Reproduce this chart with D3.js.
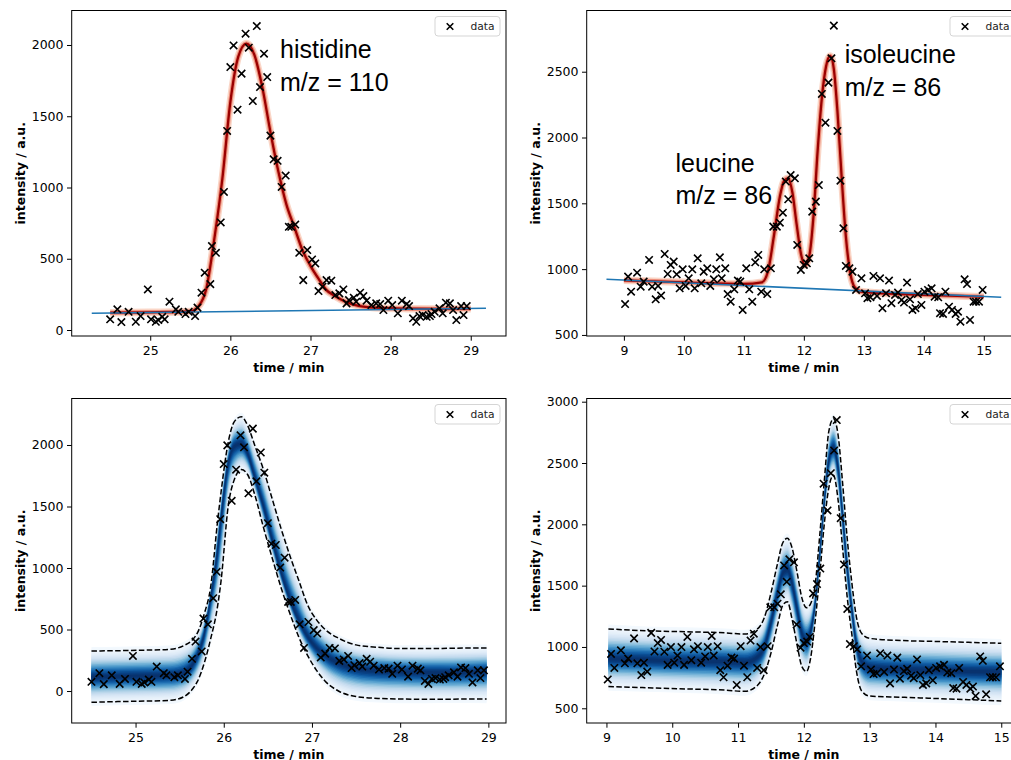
<!DOCTYPE html>
<html>
<head>
<meta charset="utf-8">
<script src="https://cdn.jsdelivr.net/npm/d3@7"></script>
<style>
  body { margin: 0; background: #fff; }
  text { font-family: "DejaVu Sans", sans-serif; }
</style>
</head>
<body>
<svg id="chart" width="1011" height="760"></svg>
<script>
// histidine, m/z = 110
const histTime = [24.50, 24.59, 24.64, 24.73, 24.82, 24.88, 24.97, 25.01, 25.07, 25.10, 25.15, 25.18, 25.24, 25.32, 25.35, 25.44,
  25.48, 25.56, 25.59, 25.64, 25.68, 25.75, 25.77, 25.82, 25.88, 25.92, 25.96, 26.00, 26.04, 26.09, 26.14, 26.19, 26.23, 26.28,
  26.33, 26.37, 26.42, 26.46, 26.50, 26.54, 26.59, 26.64, 26.69, 26.73, 26.76, 26.81, 26.86, 26.91, 26.96, 27.02, 27.06, 27.10,
  27.15, 27.20, 27.26, 27.31, 27.36, 27.41, 27.45, 27.48, 27.54, 27.57, 27.62, 27.66, 27.70, 27.76, 27.82, 27.87, 27.91, 27.97,
  28.02, 28.09, 28.14, 28.20, 28.23, 28.28, 28.32, 28.36, 28.40, 28.45, 28.49, 28.51, 28.55, 28.61, 28.65, 28.69, 28.74, 28.78,
  28.82, 28.88, 28.91, 28.95]
const histIntensity = [75, 145, 56, 128, 58, 98, 285, 75, 58, 70, 93, 75, 199, 145, 128, 112,
  128, 98, 157, 262, 402, 322, 589, 542, 755, 969, 1397, 1845, 1997, 1546, 1799, 2079, 1981, 1607,
  2133, 1705, 1939, 1775, 1364, 1198, 1187, 1004, 1084, 724, 724, 740, 542, 350, 561, 495, 467, 273,
  304, 350, 346, 245, 257, 285, 187, 210, 227, 199, 262, 238, 206, 175, 187, 182, 140, 206,
  175, 117, 206, 182, 168, 82, 58, 98, 105, 93, 98, 112, 128, 152, 117, 192, 187, 140,
  70, 168, 105, 168]

const histFitTime = [24.50, 25.00, 25.50, 25.60, 25.70, 25.80, 25.90, 26.00, 26.10, 26.20, 26.30, 26.40, 26.50, 26.60,
  26.70, 26.80, 26.90, 27.00, 27.10, 27.20, 27.30, 27.45, 27.60, 27.80, 28.20, 28.60, 29.00]
const histFit = [121, 124, 130, 165, 290, 640, 1060, 1600, 1920, 2010, 1930, 1700, 1390, 1110,
  880, 720, 560, 450, 360, 280, 240, 195, 170, 157, 150, 148, 150]
const histBaseTime = [24.27, 29.19]
const histBase = [117, 152]

const histBandTime = [24.50, 24.80, 25.10, 25.40, 25.55, 25.65, 25.70, 25.78, 25.85, 25.93, 25.97, 26.05, 26.12, 26.20, 26.27,
  26.35, 26.45, 26.55, 26.65, 26.75, 26.85, 26.95, 27.05, 27.15, 27.30, 27.50, 27.75, 28.00, 28.30, 28.60, 28.98]
const histMean = [112, 118, 122, 128, 150, 220, 290, 470, 760, 1150, 1420, 1850, 1990, 2010, 1930,
  1740, 1500, 1220, 960, 740, 570, 440, 350, 290, 230, 185, 165, 158, 150, 148, 160]
const histUpper = [325, 328, 332, 340, 370, 420, 470, 630, 840, 1380, 1620, 2020, 2190, 2230, 2160,
  2000, 1800, 1560, 1320, 1100, 900, 700, 580, 500, 430, 375, 355, 345, 345, 348, 350]
const histLower = [-92, -86, -82, -75, -45, 20, 76, 230, 420, 690, 900, 1500, 1720, 1800, 1760,
  1600, 1330, 1080, 840, 630, 440, 290, 170, 80, 0, -45, -60, -65, -67, -66, -65]

// leucine / isoleucine, m/z = 86
const leuTime = [9.02, 9.07, 9.12, 9.22, 9.28, 9.33, 9.42, 9.47, 9.53, 9.57, 9.62, 9.68, 9.73, 9.78, 9.83, 9.88, 9.93, 9.98,
  10.03, 10.08, 10.14, 10.18, 10.23, 10.29, 10.33, 10.39, 10.44, 10.50, 10.54, 10.60, 10.63, 10.69, 10.73, 10.78, 10.84, 10.90,
  10.94, 10.98, 11.04, 11.09, 11.14, 11.19, 11.24, 11.29, 11.34, 11.39, 11.45, 11.49, 11.55, 11.60, 11.65, 11.70, 11.74, 11.78,
  11.85, 11.89, 11.95, 12.00, 12.05, 12.09, 12.14, 12.20, 12.25, 12.30, 12.36, 12.41, 12.46, 12.50, 12.56, 12.61, 12.66, 12.70,
  12.76, 12.81, 12.87, 12.96, 13.02, 13.06, 13.11, 13.16, 13.22, 13.27, 13.31, 13.37, 13.42, 13.46, 13.52, 13.57, 13.63, 13.67,
  13.72, 13.77, 13.81, 13.86, 13.90, 13.96, 14.01, 14.07, 14.13, 14.18, 14.24, 14.27, 14.32, 14.36, 14.42, 14.47, 14.53, 14.57,
  14.61, 14.68, 14.72, 14.77, 14.83, 14.87, 14.92, 14.98]
const leuIntensity = [735, 943, 829, 973, 867, 905, 1070, 867, 771, 872, 799, 1115, 963, 1032, 1057, 961, 854, 999,
  872, 930, 999, 854, 1082, 892, 981, 1006, 872, 923, 999, 1090, 930, 1006, 811, 753, 847, 913,
  905, 690, 1006, 847, 753, 1052, 1108, 829, 999, 811, 1006, 1323, 1323, 1353, 1429, 1665, 1531, 1715,
  1690, 1184, 994, 1032, 1044, 1082, 1437, 1513, 1639, 2331, 2113, 2417, 2602, 2850, 2050, 1672, 1310, 1024,
  1006, 981, 842, 930, 816, 779, 786, 948, 796, 930, 703, 816, 913, 741, 804, 822, 766, 746,
  898, 771, 690, 703, 811, 728, 829, 842, 854, 791, 786, 665, 660, 829, 715, 690, 660, 677,
  601, 923, 887, 614, 753, 753, 753, 842]

const leuFitTime = [9.00, 10.00, 11.00, 11.30, 11.40, 11.50, 11.60, 11.67, 11.74, 11.81, 11.88, 11.95, 12.02, 12.09, 12.16,
  12.23, 12.30, 12.37, 12.44, 12.50, 12.56, 12.63, 12.70, 12.77, 12.85, 12.95, 13.20, 14.00, 15.00]
const leuFit = [915, 900, 888, 900, 980, 1250, 1550, 1670, 1690, 1580, 1340, 1120, 1030, 1100, 1400,
  1900, 2300, 2540, 2620, 2520, 2200, 1700, 1250, 980, 860, 830, 820, 805, 790]
const leuBaseTime = [8.71, 15.29]
const leuBase = [923, 786]

const leuBandTime = [9.03, 9.60, 10.20, 10.80, 11.10, 11.30, 11.40, 11.50, 11.60, 11.68, 11.75, 11.82, 11.90, 11.97, 12.04, 12.10,
  12.17, 12.24, 12.31, 12.38, 12.45, 12.52, 12.59, 12.66, 12.73, 12.80, 12.88, 13.00, 13.50, 14.00, 14.50, 15.00]
const leuMean = [905, 895, 885, 880, 875, 920, 1000, 1200, 1440, 1600, 1630, 1520, 1300, 1110, 1050, 1120,
  1350, 1740, 2180, 2520, 2620, 2460, 2060, 1640, 1300, 1020, 880, 830, 815, 808, 800, 795]
const leuUpper = [1147, 1132, 1124, 1115, 1105, 1150, 1240, 1440, 1680, 1850, 1886, 1810, 1600, 1400, 1320, 1350,
  1500, 1900, 2350, 2760, 2860, 2730, 2330, 1880, 1520, 1240, 1110, 1070, 1052, 1045, 1038, 1030]
const leuLower = [677, 668, 658, 648, 638, 690, 780, 950, 1180, 1340, 1369, 1230, 1010, 840, 800, 900,
  1200, 1580, 2000, 2300, 2400, 2200, 1800, 1400, 1100, 800, 640, 600, 590, 580, 570, 560]

const histXTicks = [25, 26, 27, 28, 29]
const leuXTicks = [9, 10, 11, 12, 13, 14, 15]
const histYTicks = [0, 500, 1000, 1500, 2000]
const leuTopYTicks = [500, 1000, 1500, 2000, 2500]
const leuBottomYTicks = [500, 1000, 1500, 2000, 2500, 3000]

const svg = d3.select("#chart")
let clipCount = 0

function makePanel(box, xDomain, yDomain, xTicks, yTicks) {
  const x = d3.scaleLinear().domain(xDomain).range([box.left, box.right])
  const y = d3.scaleLinear().domain(yDomain).range([box.bottom, box.top])
  const g = svg.append("g")
  const id = "clip" + (clipCount++)

  g.append("clipPath").attr("id", id)
    .append("rect")
      .attr("x", box.left)
      .attr("y", box.top)
      .attr("width", box.right - box.left)
      .attr("height", box.bottom - box.top)

  const plot = g.append("g").attr("clip-path", `url(#${id})`)

  const xAxis = g.append("g")
      .attr("transform", `translate(0,${box.bottom})`)
      .call(d3.axisBottom(x).tickValues(xTicks).tickFormat(d3.format("d")).tickSize(4.7).tickPadding(5))
  const yAxis = g.append("g")
      .attr("transform", `translate(${box.left},0)`)
      .call(d3.axisLeft(y).tickValues(yTicks).tickFormat(d3.format("d")).tickSize(4.7).tickPadding(3.5))
  for (const ax of [xAxis, yAxis]) {
    ax.select(".domain").remove()
    ax.selectAll("line").attr("stroke", "#000").attr("stroke-width", 1)
    ax.selectAll("text")
        .attr("fill", "#000")
        .style("font-size", "12.5px")
        .style("font-family", "DejaVu Sans")
  }

  g.append("text")
      .attr("x", (box.left + box.right) / 2)
      .attr("y", box.bottom + 35.5)
      .attr("text-anchor", "middle")
      .style("font-size", "12.5px")
      .style("font-weight", "bold")
      .text("time / min")

  g.append("text")
      .attr("transform", `translate(${box.left - 47},${(box.top + box.bottom) / 2}) rotate(-90)`)
      .attr("text-anchor", "middle")
      .style("font-size", "12.5px")
      .style("font-weight", "bold")
      .text("intensity / a.u.")

  return {x, y, g, plot, box}
}

function drawSpines(p) {
  p.g.append("rect")
      .attr("x", p.box.left)
      .attr("y", p.box.top)
      .attr("width", p.box.right - p.box.left)
      .attr("height", p.box.bottom - p.box.top)
      .attr("fill", "none")
      .attr("stroke", "#000")
      .attr("stroke-width", 1)
}

function drawFit(p, times, fit, baseTimes, base) {
  const rows = times.map((t, i) => ({t, v: fit[i]}))
  const line = d3.line().x(d => p.x(d.t)).y(d => p.y(d.v)).curve(d3.curveMonotoneX)
  const layers = [
    {color: "#f4a582", width: 7.5, opacity: 0.45},
    {color: "#e0452f", width: 4.5, opacity: 0.5},
    {color: "#9a0000", width: 2.3, opacity: 1}
  ]
  layers.forEach(l => {
    p.plot.append("path").datum(rows)
        .attr("d", line)
        .attr("fill", "none")
        .attr("stroke", l.color)
        .attr("stroke-width", l.width)
        .attr("stroke-opacity", l.opacity)
        .attr("stroke-linejoin", "round")
  })

  const baseRows = baseTimes.map((t, i) => ({t, v: base[i]}))
  p.plot.append("path").datum(baseRows)
      .attr("d", d3.line().x(d => p.x(d.t)).y(d => p.y(d.v)))
      .attr("fill", "none")
      .attr("stroke", "#1f77b4")
      .attr("stroke-width", 1.5)
}

function drawBand(p, times, mean, upper, lower) {
  const rows = times.map((t, i) => ({t, m: mean[i], u: upper[i], l: lower[i]}))
  d3.range(1.15, 0.01, -0.05).forEach(f => {
    const area = d3.area()
        .x(d => p.x(d.t))
        .y0(d => p.y(d.m + f * (d.l - d.m)))
        .y1(d => p.y(d.m + f * (d.u - d.m)))
        .curve(d3.curveMonotoneX)
    p.plot.append("path").datum(rows)
        .attr("d", area)
        .attr("fill", d3.interpolateBlues(Math.exp(-0.5 * (f * 2.45) ** 2)))
  })

  for (const key of ["u", "l"]) {
    p.plot.append("path").datum(rows)
        .attr("d", d3.line().x(d => p.x(d.t)).y(d => p.y(d[key])).curve(d3.curveMonotoneX))
        .attr("fill", "none")
        .attr("stroke", "#000")
        .attr("stroke-width", 1.5)
        .attr("stroke-dasharray", "5.5,2.4")
  }
}

function drawData(p, times, values) {
  const pts = times.map((t, i) => ({t, v: values[i]}))
  const s = 3.7
  p.plot.selectAll(".pt").data(pts)
    .enter().append("path")
      .classed("pt", true)
      .attr("transform", d => `translate(${p.x(d.t)},${p.y(d.v)})`)
      .attr("d", `M${-s},${-s}L${s},${s}M${-s},${s}L${s},${-s}`)
      .attr("stroke", "#000")
      .attr("stroke-width", 1.6)
}

function drawLegend(p, w) {
  const lx = p.box.right - 6 - w
  const ly = p.box.top + 6
  const lg = p.g.append("g")
  lg.append("rect")
      .attr("x", lx)
      .attr("y", ly)
      .attr("width", w)
      .attr("height", 19.5)
      .attr("rx", 3)
      .attr("fill", "#fff")
      .attr("fill-opacity", 0.8)
      .attr("stroke", "#d5d5d5")
  const s = 3.3
  lg.append("path")
      .attr("transform", `translate(${lx + 15},${ly + 10})`)
      .attr("d", `M${-s},${-s}L${s},${s}M${-s},${s}L${s},${-s}`)
      .attr("stroke", "#000")
      .attr("stroke-width", 1.6)
  lg.append("text")
      .attr("x", lx + 35.5)
      .attr("y", ly + 13.8)
      .style("font-size", "10.7px")
      .attr("fill", "#222")
      .text("data")
}

function annotate(p, t, v, lines) {
  const txt = p.g.append("text")
      .attr("x", p.x(t))
      .attr("y", p.y(v))
      .style("font-family", "Liberation Sans, Arial, sans-serif")
      .style("font-size", "25px")
      .attr("fill", "#000")
  lines.forEach((l, i) => {
    txt.append("tspan").attr("x", p.x(t)).attr("dy", i === 0 ? 0 : 32.5).text(l)
  })
}

// top left: histidine fit
const tl = makePanel({left: 71.7, right: 506, top: 10.5, bottom: 336}, [24.02, 29.44], [-42, 2242], histXTicks, histYTicks)
drawFit(tl, histFitTime, histFit, histBaseTime, histBase)
drawData(tl, histTime, histIntensity)
drawSpines(tl)
drawLegend(tl, 65)
annotate(tl, 26.62, 1907, ["histidine", "m/z = 110"])

// top right: leucine / isoleucine fit
const tr = makePanel({left: 586.7, right: 1021, top: 10.5, bottom: 336}, [8.38, 15.62], [492, 2965], leuXTicks, leuTopYTicks)
drawFit(tr, leuFitTime, leuFit, leuBaseTime, leuBase)
drawData(tr, leuTime, leuIntensity)
drawSpines(tr)
drawLegend(tr, 65)
annotate(tr, 12.68, 2564, ["isoleucine", "m/z = 86"])
annotate(tr, 9.86, 1740, ["leucine", "m/z = 86"])

// bottom left: histidine posterior band
const bl = makePanel({left: 71.7, right: 506, top: 398.5, bottom: 723}, [24.276, 29.2], [-260, 2378], histXTicks, histYTicks)
drawBand(bl, histBandTime, histMean, histUpper, histLower)
drawData(bl, histTime, histIntensity)
drawSpines(bl)
drawLegend(bl, 65)

// bottom right: leucine / isoleucine posterior band
const br = makePanel({left: 586.7, right: 1021, top: 398.5, bottom: 723}, [8.7, 15.3], [380, 3026], leuXTicks, leuBottomYTicks)
drawBand(br, leuBandTime, leuMean, leuUpper, leuLower)
drawData(br, leuTime, leuIntensity)
drawSpines(br)
drawLegend(br, 65)
</script>
</body>
</html>
